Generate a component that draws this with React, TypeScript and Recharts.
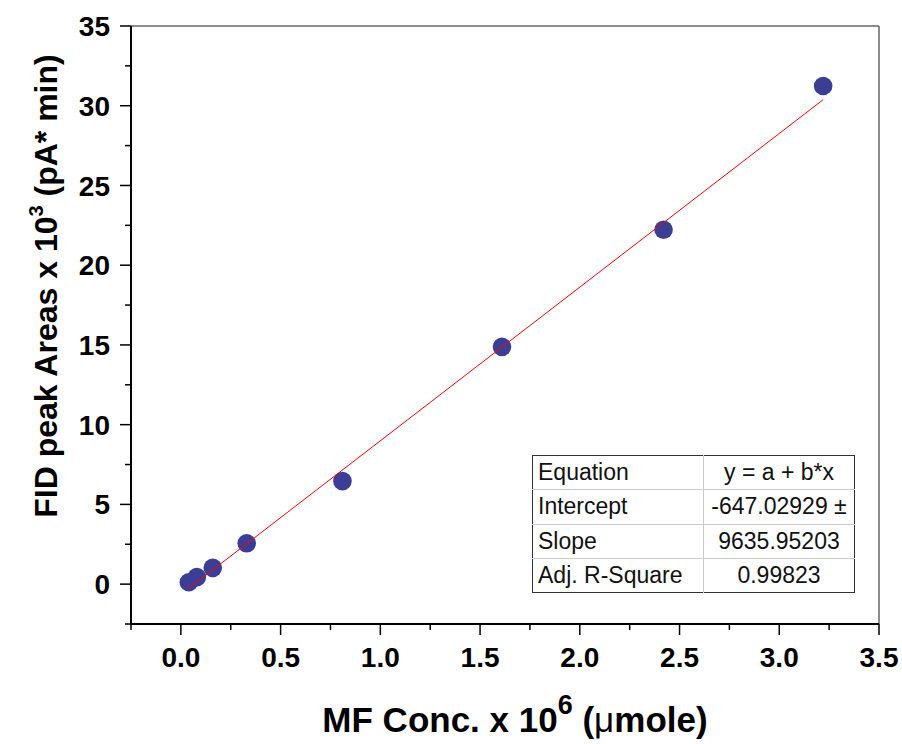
import { ReferenceLine, Scatter, ScatterChart, XAxis, YAxis } from "recharts";

const FONT = "'Liberation Sans', Arial, sans-serif";
const DOT = "#3c3e96";
const FIT = "#ff0000";

// MF concentration x 10^6 (umole) and FID peak area x 10^3
const concentration = [0.04, 0.08, 0.16, 0.33, 0.81, 1.61, 2.42, 3.22];
const peakArea = [0.12, 0.44, 1.02, 2.56, 6.46, 14.88, 22.22, 31.24];

// linear fit end points
const fitX = [0.035, 3.22];
const fitY = [-0.31, 30.38];

const xTicks = [
  -0.25, 0, 0.25, 0.5, 0.75, 1, 1.25, 1.5, 1.75, 2, 2.25, 2.5, 2.75, 3, 3.25,
  3.5,
];
const yTicks = [
  -2.5, 0, 2.5, 5, 7.5, 10, 12.5, 15, 17.5, 20, 22.5, 25, 27.5, 30, 32.5, 35,
];

const tableLabels = ["Equation", "Intercept", "Slope", "Adj. R-Square"];
const tableValues = ["y = a + b*x", "-647.02929 ±", "9635.95203", "0.99823"];

const points = concentration.map((x, i) => ({ x, y: peakArea[i] }));
const fitLine = fitX.map((x, i) => ({ x, y: fitY[i] }));

function YTick({ x, y, payload }: any) {
  const v = payload.value;
  const major = v % 5 === 0;
  return (
    <g>
      <line x1={x} x2={x - (major ? 11 : 6)} y1={y} y2={y} stroke="#000" strokeWidth={1.5} />
      {major && (
        <text
          x={x - 21}
          y={y}
          dy="0.36em"
          textAnchor="end"
          fontSize={28}
          fontWeight="bold"
          fontFamily={FONT}
          fill="#000"
        >
          {v}
        </text>
      )}
    </g>
  );
}

function XTick({ x, y, payload }: any) {
  const v = payload.value;
  const major = v % 0.5 === 0;
  return (
    <g>
      <line x1={x} x2={x} y1={y} y2={y + (major ? 11 : 6)} stroke="#000" strokeWidth={1.5} />
      {major && (
        <text
          x={x}
          y={y + 43}
          textAnchor="middle"
          fontSize={28}
          fontWeight="bold"
          fontFamily={FONT}
          fill="#000"
        >
          {v.toFixed(1)}
        </text>
      )}
    </g>
  );
}

export default function App() {
  return (
    <div style={{ position: "absolute", left: 0, top: 0, width: 902, height: 744, background: "#fff" }}>
      <ScatterChart
        width={902}
        height={744}
        margin={{ top: 26, right: 23, bottom: 60, left: 41 }}
      >
        <XAxis
          type="number"
          dataKey="x"
          domain={[-0.25, 3.5]}
          ticks={xTicks}
          interval={0}
          height={60}
          tickSize={0}
          tickMargin={0}
          tick={<XTick />}
          axisLine={{ stroke: "#000", strokeWidth: 2 }}
          allowDataOverflow
        />
        <YAxis
          type="number"
          dataKey="y"
          domain={[-2.5, 35]}
          ticks={yTicks}
          interval={0}
          width={90}
          tickSize={0}
          tickMargin={0}
          tick={<YTick />}
          axisLine={{ stroke: "#000", strokeWidth: 2 }}
          allowDataOverflow
        />
        <ReferenceLine y={35} stroke="#666" strokeWidth={1.5} />
        <ReferenceLine x={3.5} stroke="#666" strokeWidth={1.5} />
        <Scatter
          data={points}
          isAnimationActive={false}
          shape={(p: any) => <circle cx={p.cx} cy={p.cy} r={9.3} fill={DOT} />}
        />
        <Scatter
          data={fitLine}
          isAnimationActive={false}
          line={{ stroke: FIT, strokeWidth: 1 }}
          shape={() => <g />}
        />
      </ScatterChart>

      <svg
        width={902}
        height={744}
        style={{ position: "absolute", left: 0, top: 0, pointerEvents: "none" }}
      >
        <text
          transform="translate(57, 286) rotate(-90)"
          textAnchor="middle"
          fontSize={32}
          fontWeight="bold"
          fontFamily={FONT}
          fill="#000"
        >
          FID peak Areas x 10
          <tspan fontSize={20} dy={-14}>3</tspan>
          <tspan dy={14}> (pA* min)</tspan>
        </text>
        <text
          x={515}
          y={732}
          textAnchor="middle"
          fontSize={35}
          fontWeight="bold"
          fontFamily={FONT}
          fill="#000"
        >
          MF Conc. x 10
          <tspan fontSize={27} dy={-18}>6</tspan>
          <tspan dy={18}> (</tspan>
          <tspan fontWeight="normal">μ</tspan>
          <tspan>mole)</tspan>
        </text>
      </svg>

      <table
        style={{
          position: "absolute",
          left: 532,
          top: 455,
          width: 323,
          height: 138,
          borderCollapse: "collapse",
          border: "1.5px solid #333",
          fontFamily: FONT,
          fontSize: 23,
          color: "#111",
          background: "#fff",
        }}
      >
        <tbody>
          {tableLabels.map((label, i) => (
            <tr key={label}>
              <td
                style={{
                  width: 165,
                  padding: "0 0 0 5px",
                  borderTop: i ? "1.5px solid #ccc" : undefined,
                  borderRight: "1.5px solid #ccc",
                  textAlign: "left",
                }}
              >
                {label}
              </td>
              <td
                style={{
                  padding: 0,
                  borderTop: i ? "1.5px solid #ccc" : undefined,
                  textAlign: "center",
                }}
              >
                {tableValues[i]}
              </td>
            </tr>
          ))}
        </tbody>
      </table>
    </div>
  );
}
